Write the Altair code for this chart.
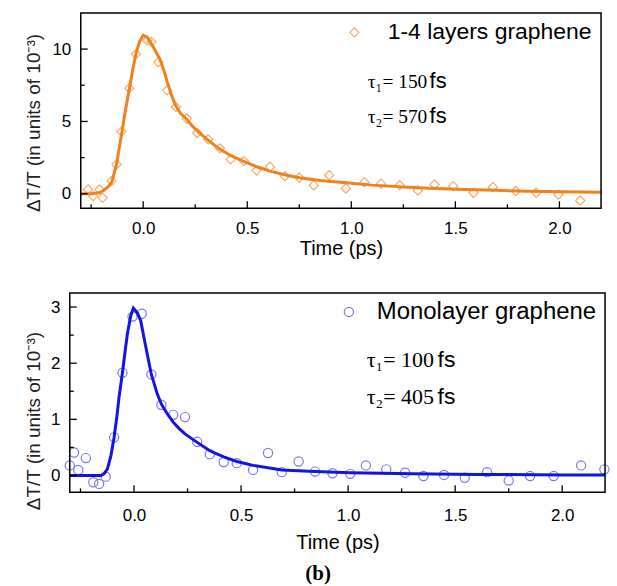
import altair as alt
import pandas as pd

# ---- 1-4 layer graphene: measured transient and bi-exponential fit ----
multi_t = [-0.265, -0.24, -0.21, -0.195, -0.152, -0.128, -0.104, -0.067, -0.035,
           0.019, 0.04, 0.072, 0.115, 0.157, 0.209, 0.26, 0.3125, 0.369, 0.42,
           0.484, 0.545, 0.609, 0.681, 0.75, 0.82, 0.894, 0.974, 1.063, 1.143,
           1.232, 1.32, 1.40, 1.49, 1.587, 1.68, 1.79, 1.888, 1.995, 2.10]
multi_v = [0.30, -0.16, 0.30, -0.28, 0.88, 2.03, 4.3, 7.3, 9.65,
           10.6, 10.5, 9.1, 7.15, 6.0, 5.2, 4.2, 3.76, 3.14, 2.38,
           2.26, 1.62, 1.87, 1.22, 1.11, 0.58, 1.29, 0.37, 0.8, 0.7,
           0.6, 0.23, 0.65, 0.53, 0.07, 0.46, 0.19, 0.07, -0.05, -0.46]
multi_fit_t = [-0.30, -0.25, -0.21, -0.19, -0.165, -0.15, -0.128, -0.104, -0.085,
               -0.067, -0.05, -0.035, -0.018, 0.0, 0.02, 0.04, 0.06, 0.08, 0.10,
               0.115, 0.135, 0.157, 0.18, 0.209, 0.235, 0.26, 0.30, 0.335, 0.369,
               0.42, 0.48, 0.55, 0.609, 0.68, 0.75, 0.85, 0.974, 1.1, 1.25, 1.4,
               1.55, 1.7, 1.85, 2.0, 2.2]
multi_fit_v = [0.0, 0.0, 0.08, 0.23, 0.53, 0.85, 2.03, 4.1, 5.8,
               7.2, 8.6, 9.65, 10.5, 10.96, 10.8, 10.35, 9.85, 9.3, 8.5,
               7.75, 6.85, 6.07, 5.55, 5.15, 4.7, 4.34, 3.85, 3.45, 3.07,
               2.65, 2.26, 1.85, 1.57, 1.32, 1.11, 0.92, 0.76, 0.6, 0.47, 0.37,
               0.3, 0.24, 0.18, 0.14, 0.1]

# ---- Monolayer graphene: measured transient and bi-exponential fit ----
mono_t = [-0.30, -0.28, -0.26, -0.225, -0.19, -0.163, -0.132, -0.093, -0.054,
          -0.007, 0.036, 0.081, 0.128, 0.183, 0.238, 0.295, 0.354, 0.419, 0.48,
          0.556, 0.626, 0.69, 0.769, 0.846, 0.927, 1.01, 1.083, 1.178, 1.266,
          1.352, 1.448, 1.545, 1.649, 1.75, 1.85, 1.96, 2.088, 2.197]
mono_v = [0.18, 0.41, 0.10, 0.31, -0.12, -0.15, -0.02, 0.68, 1.83,
          2.83, 2.88, 1.80, 1.26, 1.08, 1.04, 0.60, 0.38, 0.24, 0.22,
          0.10, 0.40, 0.06, 0.25, 0.07, 0.04, 0.03, 0.18, 0.11, 0.05,
          -0.01, 0.01, -0.04, 0.06, -0.09, -0.01, -0.01, 0.18, 0.11]
mono_fit_t = [-0.30, -0.2, -0.155, -0.14, -0.124, -0.108, -0.093, -0.08, -0.07,
              -0.054, -0.042, -0.031, -0.015, -0.003, 0.015, 0.031, 0.054, 0.081,
              0.109, 0.128, 0.155, 0.183, 0.21, 0.238, 0.295, 0.354, 0.419, 0.48,
              0.556, 0.69, 0.846, 1.01, 1.3, 1.6, 2.0, 2.2]
mono_fit_v = [0.0, 0.0, 0.0, 0.03, 0.12, 0.35, 0.68, 1.05, 1.39,
              1.83, 2.2, 2.52, 2.85, 2.98, 2.9, 2.76, 2.31, 1.8,
              1.45, 1.27, 1.1, 0.95, 0.84, 0.74, 0.59, 0.44, 0.33, 0.25,
              0.18, 0.1, 0.07, 0.05, 0.03, 0.02, 0.01, 0.01]

# ---- axis ticks (major carry labels, minor are short inward ticks) ----
x_major = [0.0, 0.5, 1.0, 1.5, 2.0]
x_minor = [-0.25, 0.25, 0.75, 1.25, 1.75]
multi_y_major = [0, 5, 10]
multi_y_minor = [2.5, 7.5]
mono_y_major = [0, 1, 2, 3]
mono_y_minor = [0.5, 1.5, 2.5]

SANS = "Liberation Sans"
SERIF = "Liberation Serif"
Y_TITLE = "\u0394T/T (in units of 10\u207b\u00b3)"
MAJOR_LEN = 7
MINOR_LEN = 4


def panel(pt_t, pt_v, fit_t, fit_v, sample, shape, pt_color, line_color,
          y_domain, y_major, y_minor, inset, w, h,
          x_label_pad, x_title_pad, y_title_x, y_title_y,
          legend_x, legend_y, legend_font, label_offset,
          tau_lines, tau_x, fs_x, tau_y, tau_font, fs_font):
    """One transient panel; the frame starts `inset` px right of the view origin."""
    pts_df = pd.DataFrame({"t": pt_t, "v": pt_v, "sample": sample})
    fit_df = pd.DataFrame({"t": fit_t, "v": fit_v})
    one_row = pd.DataFrame({"k": [0]})
    full_w = inset + w
    xs = alt.Scale(domain=[-0.3, 2.2], range=[inset, full_w], nice=False, zero=False)
    ys = alt.Scale(domain=y_domain, nice=False, zero=False)

    points = alt.Chart(pts_df).mark_point(
        shape=shape, filled=False, size=85, strokeWidth=1.2, opacity=1
    ).encode(
        x=alt.X("t:Q", scale=xs, axis=alt.Axis(
            orient="bottom", values=x_major, format=".1f", ticks=False,
            domain=False, grid=False, labelPadding=x_label_pad, labelFontSize=17,
            labelFont=SANS, labelColor="black", title="Time (ps)",
            titleFont=SANS, titleFontSize=20, titleFontWeight="normal",
            titleColor="black", titleX=inset + w / 2, titlePadding=x_title_pad)),
        y=alt.Y("v:Q", scale=ys, axis=alt.Axis(
            orient="left", offset=-inset, values=y_major, format="d", ticks=False,
            domain=False, grid=False, labelPadding=10, labelFontSize=17,
            labelFont=SANS, labelColor="black", title=Y_TITLE,
            titleFont=SANS, titleFontSize=19, titleFontWeight="normal",
            titleColor="#222222", titleAngle=270, titleAlign="center",
            titleBaseline="bottom", titleX=y_title_x, titleY=y_title_y)),
        color=alt.Color("sample:N", scale=alt.Scale(domain=[sample], range=[pt_color]),
                        legend=alt.Legend(
                            orient="none", legendX=inset + legend_x, legendY=legend_y,
                            title=None, symbolType=shape, symbolSize=85,
                            symbolStrokeWidth=1.2, symbolFillColor="transparent",
                            labelFont=SANS, labelFontSize=legend_font,
                            labelColor="black", labelOffset=label_offset,
                            labelLimit=400)),
    )

    fit = alt.Chart(fit_df).mark_line(color=line_color, strokeWidth=3).encode(
        x=alt.X("t:Q", scale=xs, axis=None),
        y=alt.Y("v:Q", scale=ys, axis=None),
    )

    ticks = []
    for vals, size in ((x_major, MAJOR_LEN), (x_minor, MINOR_LEN)):
        ticks.append(alt.Chart(pd.DataFrame({"tick": vals})).mark_rule(
            color="black", strokeWidth=1.3
        ).encode(x=alt.X("tick:Q", scale=xs, axis=None),
                 y=alt.value(h), y2=alt.value(h - size)))
    for vals, size in ((y_major, MAJOR_LEN), (y_minor, MINOR_LEN)):
        ticks.append(alt.Chart(pd.DataFrame({"tick": vals})).mark_rule(
            color="black", strokeWidth=1.3
        ).encode(y=alt.Y("tick:Q", scale=ys, axis=None),
                 x=alt.value(inset), x2=alt.value(inset + size)))

    notes = []
    for lead, yb in zip(tau_lines, tau_y):
        notes.append(alt.Chart(one_row).mark_text(
            text=lead, font=SERIF, fontSize=tau_font, align="left",
            baseline="alphabetic", color="black"
        ).encode(x=alt.value(inset + tau_x), y=alt.value(yb)))
        notes.append(alt.Chart(one_row).mark_text(
            text="fs", font=SANS, fontSize=fs_font, align="left",
            baseline="alphabetic", color="black"
        ).encode(x=alt.value(inset + fs_x), y=alt.value(yb)))

    frame = alt.Chart(one_row).mark_rect(
        fillOpacity=0, stroke="black", strokeWidth=1.5
    ).encode(x=alt.value(inset), x2=alt.value(full_w),
             y=alt.value(0), y2=alt.value(h))

    layers = [points, fit] + ticks + notes + [frame]
    return alt.layer(*layers).resolve_axis(
        x="independent", y="independent"
    ).properties(width=full_w, height=h)


top = panel(multi_t, multi_v, multi_fit_t, multi_fit_v, "1-4 layers graphene",
            "diamond", "#F4AA66", "#F0821E",
            [-1, 12.5], multi_y_major, multi_y_minor, 11, 522, 196,
            12, 2, -37, 110,
            263, 8, 23, 22,
            ["\u03c4\u2081= 150", "\u03c4\u2082= 570"], 288, 350, [75, 110], 19.5, 22)

bottom = panel(mono_t, mono_v, mono_fit_t, mono_fit_v, "Monolayer graphene",
               "circle", "#7A7AE6", "#1414DC",
               [-0.3, 3.25], mono_y_major, mono_y_minor, 0, 537, 200,
               15, 9, -26, 128,
               268, 7, 24, 16,
               ["\u03c4\u2081= 100", "\u03c4\u2082= 405"], 298, 369, [74, 111], 22, 23)

chart = alt.vconcat(top, bottom, spacing=32).resolve_scale(
    color="independent"
).properties(
    title=alt.TitleParams("(b)", orient="bottom", anchor="middle", font=SERIF,
                          fontSize=21, fontWeight="bold", color="black", offset=10),
    padding={"left": 24, "top": 10, "right": 5, "bottom": 0},
).configure_view(stroke="transparent")

chart.save("out.html", embed_options={"renderer": "svg", "actions": False})
